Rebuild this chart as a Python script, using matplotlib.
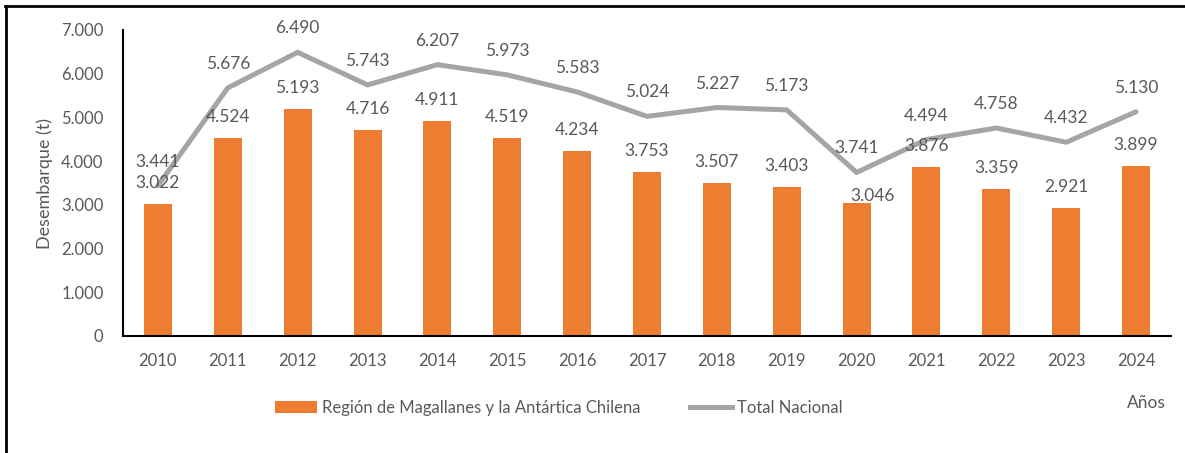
import matplotlib
matplotlib.use("Agg")
import matplotlib.pyplot as plt
from matplotlib.lines import Line2D
from matplotlib.patches import Patch
import matplotlib.ticker as mticker

years = ['2010', '2011', '2012', '2013', '2014', '2015', '2016', '2017',
         '2018', '2019', '2020', '2021', '2022', '2023', '2024']
region = [3022, 4524, 5193, 4716, 4911, 4519, 4234, 3753, 3507, 3403,
          3046, 3876, 3359, 2921, 3899]
total = [3441, 5676, 6490, 5743, 6207, 5973, 5583, 5024, 5227, 5173,
         3741, 4494, 4758, 4432, 5130]

ORANGE = '#ED7D31'
GRAY = '#A5A5A5'
TXT = '#595959'
FONT = 'Lato'

plt.rcParams['font.family'] = [FONT, 'DejaVu Sans']


def fmt(v):
    return f"{int(v):,}".replace(',', '.')


fig = plt.figure(figsize=(11.85, 4.53), dpi=100)
ax = fig.add_axes([123 / 1185, 117 / 453, (1171 - 123) / 1185, (336 - 30) / 453])

x = list(range(len(years)))
ax.bar(x, region, width=0.4, color=ORANGE, zorder=2)
ax.plot(x, total, color=GRAY, lw=3.6, solid_joinstyle='round',
        solid_capstyle='round', zorder=3)

ax.set_xlim(-0.5, len(years) - 0.5)
ax.set_ylim(0, 7000)
ax.yaxis.set_major_locator(mticker.MultipleLocator(1000))
ax.yaxis.set_major_formatter(mticker.FuncFormatter(lambda v, p: fmt(v)))
ax.set_xticks(x)
ax.set_xticklabels(years)
ax.tick_params(axis='both', length=0, labelsize=12, colors=TXT)
ax.tick_params(axis='x', pad=12)
ax.tick_params(axis='y', pad=14)
for s in ['top', 'right']:
    ax.spines[s].set_visible(False)
for s in ['left', 'bottom']:
    ax.spines[s].set_color('black')
    ax.spines[s].set_linewidth(1.5)

# data labels
bar_offsets = {10: (16, 7)}
for i, v in enumerate(region):
    dx, dy = bar_offsets.get(i, (0, 21))
    ax.annotate(fmt(v), (i, v), xytext=(dx, dy), textcoords='offset pixels',
                ha='center', va='center', fontsize=12.5, color=TXT, zorder=4)
for i, v in enumerate(total):
    ax.annotate(fmt(v), (i, v), xytext=(0, 24), textcoords='offset pixels',
                ha='center', va='center', fontsize=12.5, color=TXT, zorder=4)

fig.text(45 / 1185, 1 - 183 / 453, 'Desembarque (t)', rotation=90,
         ha='center', va='center', fontsize=13, color=TXT)
fig.text(1146 / 1185, 1 - 403 / 453, 'Años', ha='center', va='center',
         fontsize=12.5, color=TXT)

handles = [Patch(facecolor=ORANGE, edgecolor='none'),
           Line2D([0], [0], color=GRAY, lw=3.6)]
labels = ['Región de Magallanes y la Antártica Chilena', 'Total Nacional']
leg = fig.legend(handles, labels, loc='center', ncol=2,
                 bbox_to_anchor=(559 / 1185, 1 - 408 / 453), frameon=False,
                 fontsize=12, handlelength=2.5, handletextpad=0.3,
                 columnspacing=3.0)
for t in leg.get_texts():
    t.set_color(TXT)

# outer frame (top and left edges)
fig.add_artist(Line2D([5 / 1185, 1.0], [1 - 6 / 453, 1 - 6 / 453],
                      transform=fig.transFigure, color='black', lw=2))
fig.add_artist(Line2D([6 / 1185, 6 / 1185], [0.0, 1 - 6 / 453],
                      transform=fig.transFigure, color='black', lw=2))

fig.savefig('out.png', dpi=100)
